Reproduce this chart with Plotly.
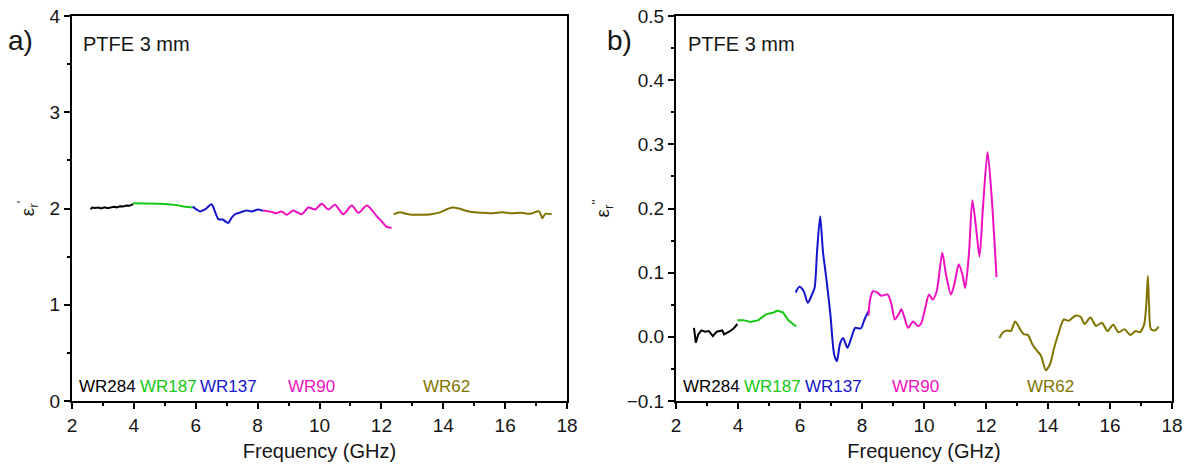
import plotly.graph_objects as go

# ---------------- data: real part (eps') ----------------
wr284_f1 = [2.60, 2.65, 2.75, 2.85, 2.95, 3.05, 3.15, 3.25, 3.35, 3.45, 3.55, 3.65, 3.75, 3.85, 3.98]
wr284_e1 = [1.99, 2.01, 2.005, 2.01, 2.00, 2.012, 2.003, 2.01, 2.018, 2.012, 2.022, 2.02, 2.03, 2.028, 2.045]
wr187_f1 = [3.98, 4.2, 4.5, 4.8, 5.1, 5.4, 5.6, 5.9]
wr187_e1 = [2.055, 2.055, 2.05, 2.05, 2.045, 2.035, 2.02, 2.01]
wr137_f1 = [5.9, 6.02, 6.14, 6.3, 6.51, 6.62, 6.73, 6.87, 7.05, 7.15, 7.27, 7.45, 7.64, 7.8, 8.02, 8.18]
wr137_e1 = [2.02, 1.99, 1.97, 1.99, 2.045, 1.97, 1.89, 1.885, 1.85, 1.9, 1.94, 1.96, 1.98, 1.97, 1.99, 1.975]
wr90_f1 = [8.18, 8.45, 8.6, 8.77, 8.94, 9.15, 9.42, 9.64, 9.86, 10.07, 10.29, 10.5, 10.77, 11.04,
           11.26, 11.53, 11.85, 12.0, 12.17, 12.33]
wr90_e1 = [1.98, 1.965, 1.95, 1.97, 1.935, 1.98, 1.94, 2.01, 1.99, 2.05, 1.99, 2.04, 1.94, 2.03,
           1.955, 2.03, 1.92, 1.87, 1.81, 1.80]
wr62_f1 = [12.4, 12.6, 12.8, 13.0, 13.3, 13.6, 13.9, 14.1, 14.3, 14.5, 14.7, 15.0, 15.3, 15.6,
           15.9, 16.2, 16.5, 16.8, 17.1, 17.2, 17.3, 17.5]
wr62_e1 = [1.94, 1.96, 1.945, 1.935, 1.935, 1.94, 1.96, 1.99, 2.01, 2.0, 1.98, 1.96, 1.955, 1.95,
           1.96, 1.95, 1.955, 1.945, 1.97, 1.90, 1.945, 1.94]

# ---------------- data: imaginary part (eps'') ----------------
wr284_f2 = [2.58, 2.64, 2.72, 2.82, 2.94, 3.06, 3.19, 3.31, 3.49, 3.55, 3.74, 3.86, 3.98]
wr284_e2 = [0.014, -0.009, 0.004, 0.010, 0.008, 0.009, 0.001, 0.008, 0.010, 0.004, 0.009, 0.013, 0.020]
wr187_f2 = [3.98, 4.17, 4.41, 4.66, 4.90, 5.15, 5.27, 5.45, 5.64, 5.88]
wr187_e2 = [0.026, 0.026, 0.023, 0.026, 0.035, 0.038, 0.041, 0.038, 0.025, 0.016]
wr137_f2 = [5.86, 5.98, 6.12, 6.25, 6.37, 6.47, 6.55, 6.65, 6.74, 6.86, 6.98, 7.10, 7.19, 7.29,
            7.39, 7.53, 7.66, 7.78, 7.96, 8.08, 8.21]
wr137_e2 = [0.069, 0.078, 0.071, 0.053, 0.064, 0.076, 0.133, 0.188, 0.133, 0.087, 0.035, -0.027,
            -0.038, -0.011, -0.002, -0.017, -0.001, 0.014, 0.013, 0.027, 0.040]
wr90_f2 = [8.21, 8.26, 8.35, 8.5, 8.62, 8.82, 8.94, 9.06, 9.18, 9.27, 9.37, 9.49, 9.65, 9.8, 9.9,
           10.04, 10.16, 10.28, 10.41, 10.59, 10.71, 10.87, 10.98, 11.12, 11.24, 11.33, 11.45,
           11.56, 11.68, 11.79, 11.9, 12.05, 12.18, 12.34]
wr90_e2 = [0.033, 0.058, 0.071, 0.069, 0.064, 0.066, 0.053, 0.027, 0.035, 0.043, 0.030, 0.014,
           0.024, 0.017, 0.020, 0.045, 0.066, 0.058, 0.071, 0.131, 0.097, 0.066, 0.082, 0.113,
           0.097, 0.076, 0.130, 0.213, 0.170, 0.125, 0.200, 0.288, 0.220, 0.093]
wr62_f2 = [12.43, 12.55, 12.68, 12.8, 12.94, 13.1, 13.22, 13.35, 13.49, 13.65, 13.77, 13.93, 14.07,
           14.2, 14.33, 14.51, 14.67, 14.88, 15.06, 15.18, 15.37, 15.55, 15.74, 15.92, 16.1,
           16.28, 16.47, 16.65, 16.83, 16.96, 17.1, 17.17, 17.22, 17.26, 17.32, 17.45, 17.57]
wr62_e2 = [-0.002, 0.007, 0.010, 0.009, 0.024, 0.012, 0.004, 0.003, -0.011, -0.022, -0.029, -0.052,
           -0.042, -0.017, 0.004, 0.027, 0.025, 0.033, 0.031, 0.020, 0.030, 0.017, 0.022, 0.009,
           0.019, 0.007, 0.012, 0.003, 0.009, 0.007, 0.019, 0.05, 0.095, 0.05, 0.012, 0.010, 0.016]

band_names = ["WR284", "WR187", "WR137", "WR90", "WR62"]
band_label_x = [2.2, 4.15, 6.12, 8.95, 13.3]
colors = ["#000000", "#14C814", "#1414CC", "#EE10C0", "#807400"]

series1 = [(wr284_f1, wr284_e1), (wr187_f1, wr187_e1), (wr137_f1, wr137_e1), (wr90_f1, wr90_e1), (wr62_f1, wr62_e1)]
series2 = [(wr284_f2, wr284_e2), (wr187_f2, wr187_e2), (wr137_f2, wr137_e2), (wr90_f2, wr90_e2), (wr62_f2, wr62_e2)]
smooth = [False, False, True, True, True]

FONT = "Arial, Liberation Sans, sans-serif"
W, H = 1192, 467
TXT = "#151515"

fig = go.Figure()
for i, (f, e) in enumerate(series1):
    fig.add_trace(go.Scatter(x=f, y=e, mode="lines", name=band_names[i], showlegend=False,
                             line=dict(color=colors[i], width=2,
                                       shape="spline" if smooth[i] else "linear", smoothing=0.7),
                             xaxis="x", yaxis="y"))
for i, (f, e) in enumerate(series2):
    fig.add_trace(go.Scatter(x=f, y=e, mode="lines", name=band_names[i], showlegend=False,
                             line=dict(color=colors[i], width=2,
                                       shape="spline" if smooth[i] else "linear", smoothing=0.7),
                             xaxis="x2", yaxis="y2"))

axis_common = dict(showline=True, linecolor="black", linewidth=2, mirror=True,
                   ticks="outside", ticklen=6, tickwidth=1.5, tickcolor="black",
                   showgrid=False, zeroline=False, automargin=False,
                   tickfont=dict(family=FONT, size=19, color=TXT))
xcommon = dict(axis_common, range=[2, 18], dtick=2, tick0=2,
               minor=dict(ticks="outside", ticklen=3, dtick=1, tickwidth=1.5, tickcolor="black"),
               title=dict(text="Frequency (GHz)", font=dict(family=FONT, size=20, color=TXT), standoff=9))

fig.update_layout(
    width=W, height=H, margin=dict(l=0, r=0, t=16, b=66, autoexpand=False),
    paper_bgcolor="white", plot_bgcolor="white",
    xaxis=dict(xcommon, domain=[72 / W, 567 / W], anchor="y"),
    yaxis=dict(axis_common, domain=[0, 1], range=[0, 4], dtick=1, anchor="x",
               minor=dict(ticks="outside", ticklen=3, dtick=0.5, tickwidth=1.5, tickcolor="black"),
               title=dict(text="ε<sub>r</sub><sup>'</sup>", font=dict(family=FONT, size=19, color=TXT), standoff=10)),
    xaxis2=dict(xcommon, domain=[676 / W, 1172 / W], anchor="y2"),
    yaxis2=dict(axis_common, domain=[0, 1], range=[-0.1, 0.5], dtick=0.1, tick0=0, tickformat=".1f", anchor="x2",
                minor=dict(ticks="outside", ticklen=3, dtick=0.05, tickwidth=1.5, tickcolor="black"),
                title=dict(text="ε<sub>r</sub><sup>''</sup>", font=dict(family=FONT, size=19, color=TXT), standoff=12)),
)

ann = []
# panel labels
ann.append(dict(text="a)", x=6 / W, y=1 - 30 / H, xref="paper", yref="paper", xanchor="left", yanchor="middle",
                showarrow=False, font=dict(family=FONT, size=28, color=TXT)))
ann.append(dict(text="b)", x=605 / W, y=1 - 30 / H, xref="paper", yref="paper", xanchor="left", yanchor="middle",
                showarrow=False, font=dict(family=FONT, size=28, color=TXT)))
# sample labels
ann.append(dict(text="PTFE 3 mm", x=81 / W, y=1 - 34 / H, xref="paper", yref="paper", xanchor="left", yanchor="middle",
                showarrow=False, font=dict(family=FONT, size=20, color=TXT)))
ann.append(dict(text="PTFE 3 mm", x=686 / W, y=1 - 34 / H, xref="paper", yref="paper", xanchor="left", yanchor="middle",
                showarrow=False, font=dict(family=FONT, size=20, color=TXT)))
# waveguide band labels
for i, name in enumerate(band_names):
    ann.append(dict(text=name, x=band_label_x[i], y=0.15, xref="x", yref="y", xanchor="left", yanchor="middle",
                    showarrow=False, borderpad=0, font=dict(family=FONT, size=17, color=colors[i])))
    ann.append(dict(text=name, x=band_label_x[i], y=-0.077, xref="x2", yref="y2", xanchor="left", yanchor="middle",
                    showarrow=False, borderpad=0, font=dict(family=FONT, size=17, color=colors[i])))
fig.update_layout(annotations=ann)

fig.write_html("out.html")
